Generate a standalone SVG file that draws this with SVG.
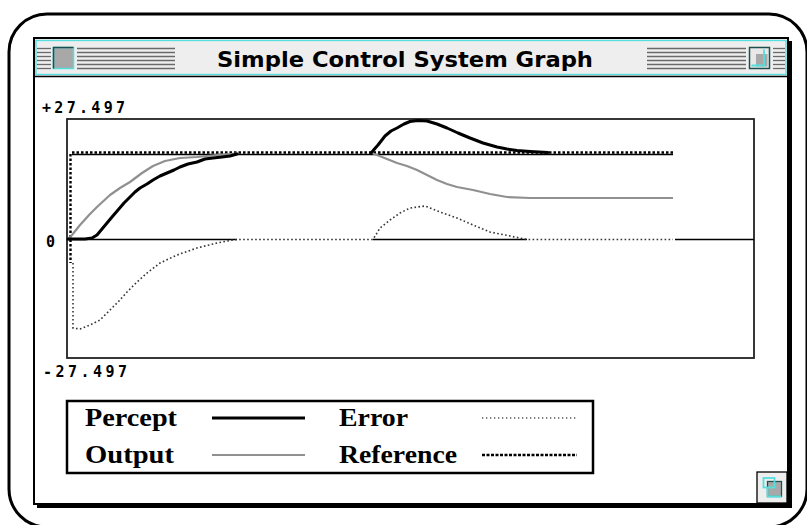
<svg xmlns="http://www.w3.org/2000/svg" width="807" height="525" viewBox="0 0 807 525">
  <style>
    .title { font-family: "DejaVu Sans", "Liberation Sans", sans-serif; font-weight: bold; font-size: 22px; fill: #000; }
    .axis { font-family: "DejaVu Sans Mono", "Liberation Mono", monospace; font-weight: bold; font-size: 15px; fill: #000; }
    .leg { font-family: "Liberation Serif", "DejaVu Serif", serif; font-weight: bold; font-size: 26px; fill: #000; }
    .stripe { stroke: #6a6a6a; stroke-width: 1.3; }
    .percept { fill: none; stroke: #000; stroke-width: 3; stroke-linejoin: round; stroke-linecap: round; }
    .output { fill: none; stroke: #909090; stroke-width: 2.2; stroke-linejoin: round; }
    .error { fill: none; stroke: #333; stroke-width: 1.6; stroke-dasharray: 1.6 2.4; }
    .refbase { fill: none; stroke: #000; stroke-width: 1.3; }
    .refdash { fill: none; stroke: #000; stroke-width: 2.4; stroke-dasharray: 2.5 2; }
    .zero { stroke: #000; stroke-width: 1.4; }
  </style>

  <!-- screen outline -->
  <rect id="screen" x="9" y="14" width="798" height="513" rx="38" ry="38" fill="#fff" stroke="#000" stroke-width="3"/>

  <!-- window frame with drop shadow -->
  <g id="window">
    <rect x="37" y="41" width="755" height="467" fill="#000"/>
    <rect x="34" y="38" width="754" height="466" fill="#fff" stroke="#000" stroke-width="2"/>
  </g>

  <!-- title bar -->
  <g id="titlebar">
    <rect x="35" y="39" width="752" height="37" fill="#eeeeee"/>
    <rect x="36" y="40.5" width="750" height="34" fill="none" stroke="#55dede" stroke-width="1.3"/>
    <line x1="35" y1="76.5" x2="787" y2="76.5" stroke="#000" stroke-width="1.6"/>
    <g id="stripes-left">
      <line class="stripe" x1="37" y1="48.5" x2="51" y2="48.5"/>
      <line class="stripe" x1="37" y1="52.5" x2="51" y2="52.5"/>
      <line class="stripe" x1="37" y1="56.5" x2="51" y2="56.5"/>
      <line class="stripe" x1="37" y1="60.5" x2="51" y2="60.5"/>
      <line class="stripe" x1="37" y1="64.5" x2="51" y2="64.5"/>
      <line class="stripe" x1="37" y1="68.5" x2="51" y2="68.5"/>
      <line class="stripe" x1="77" y1="48.5" x2="175" y2="48.5"/>
      <line class="stripe" x1="77" y1="52.5" x2="175" y2="52.5"/>
      <line class="stripe" x1="77" y1="56.5" x2="175" y2="56.5"/>
      <line class="stripe" x1="77" y1="60.5" x2="175" y2="60.5"/>
      <line class="stripe" x1="77" y1="64.5" x2="175" y2="64.5"/>
      <line class="stripe" x1="77" y1="68.5" x2="175" y2="68.5"/>
    </g>
    <g id="close-box">
      <rect x="53.5" y="47.5" width="20" height="21" fill="#a8a8a8" stroke="#55dede" stroke-width="1.5"/>
      <path d="M53.5 68.5 V47.5 H73.5" fill="none" stroke="#1d4f4f" stroke-width="1.5"/>
    </g>
    <g id="stripes-right">
      <line class="stripe" x1="647" y1="48.5" x2="746" y2="48.5"/>
      <line class="stripe" x1="647" y1="52.5" x2="746" y2="52.5"/>
      <line class="stripe" x1="647" y1="56.5" x2="746" y2="56.5"/>
      <line class="stripe" x1="647" y1="60.5" x2="746" y2="60.5"/>
      <line class="stripe" x1="647" y1="64.5" x2="746" y2="64.5"/>
      <line class="stripe" x1="647" y1="68.5" x2="746" y2="68.5"/>
      <line class="stripe" x1="773" y1="48.5" x2="785" y2="48.5"/>
      <line class="stripe" x1="773" y1="52.5" x2="785" y2="52.5"/>
      <line class="stripe" x1="773" y1="56.5" x2="785" y2="56.5"/>
      <line class="stripe" x1="773" y1="60.5" x2="785" y2="60.5"/>
      <line class="stripe" x1="773" y1="64.5" x2="785" y2="64.5"/>
      <line class="stripe" x1="773" y1="68.5" x2="785" y2="68.5"/>
    </g>
    <g id="zoom-box">
      <rect x="749.5" y="47.5" width="20" height="21" fill="#e8e8e8" stroke="#1d4f4f" stroke-width="1.5"/>
      <rect x="756" y="54" width="11.5" height="12.5" fill="#a8a8a8"/>
      <path d="M751.5 65.5 H764 V49.5" fill="none" stroke="#55dede" stroke-width="1.8"/>
    </g>
    <text class="title" x="217" y="67" textLength="376" lengthAdjust="spacingAndGlyphs">Simple Control System Graph</text>
  </g>

  <!-- plot area -->
  <g id="plot">
    <rect x="67" y="119" width="687" height="239" fill="none" stroke="#222" stroke-width="1.8"/>
    <text class="axis" x="42" y="113" textLength="83">+27.497</text>
    <text class="axis" x="46" y="247">0</text>
    <text class="axis" x="43" y="377" textLength="84">-27.497</text>

    <g id="zero-axis">
      <line class="zero" x1="67" y1="239.5" x2="237" y2="239.5"/>
      <line class="zero" x1="373" y1="239.5" x2="527" y2="239.5"/>
      <line class="zero" x1="675" y1="239.5" x2="754" y2="239.5"/>
    </g>

    <g id="reference-trace">
      <line class="refbase" x1="72" y1="154.5" x2="673" y2="154.5"/>
      <line class="refdash" x1="72" y1="152.5" x2="673" y2="152.5"/>
      <line class="refdash" x1="70.5" y1="154" x2="70.5" y2="263" stroke-width="2"/>
    </g>

    <g id="output-trace">
      <polyline class="output" points="68,239 72,235 80,225 90,214 97,207 110,195 120,188 130,182 142,173 153,166 165,161 180,158 197,157 217,155 237,153.5"/>
      <polyline class="output" points="373,153.5 377,155 387,159 397,163 407,166 417,170 427,175 437,180 447,184 457,187 473,190 490,194 507,197 530,198 673,198"/>
    </g>

    <g id="error-trace">
      <polyline class="error" points="73,263 73,328 80,329 90,325 100,320 110,310 118,302 127,292 137,282 147,273 160,263 177,255 197,248 217,243 233,240 237,239.5 373,239.5 380,228 390,220 400,213 410,208 425,206 440,212 457,218 473,225 490,232 510,236 527,239.5 673,239.5"/>
    </g>

    <g id="percept-trace">
      <polyline class="percept" points="68,239 85,239 92,238 97,235 102,229 107,223 112,217 118,210 124,203 130,197 135,192 140,188 147,184 153,180 160,176 167,173 174,170 180,167 188,164 197,162 205,159 213,158 222,157 230,156 237,154"/>
      <polyline class="percept" points="371,153 378,145 385,136 391,131 397,128 404,124 410,121.5 418,120.5 427,121 437,124 447,128 458,133 470,138 483,143 497,147 507,149 517,150.5 530,151.5 548,152.5"/>
    </g>
  </g>

  <!-- legend -->
  <g id="legend">
    <rect x="67" y="401" width="526" height="72" fill="#fff" stroke="#000" stroke-width="2.5"/>
    <g id="legend-percept">
      <text class="leg" x="85" y="426" textLength="92" lengthAdjust="spacingAndGlyphs">Percept</text>
      <line x1="212" y1="418" x2="305" y2="418" stroke="#000" stroke-width="3"/>
    </g>
    <g id="legend-output">
      <text class="leg" x="85" y="463" textLength="89" lengthAdjust="spacingAndGlyphs">Output</text>
      <line x1="212" y1="455" x2="305" y2="455" stroke="#909090" stroke-width="2"/>
    </g>
    <g id="legend-error">
      <text class="leg" x="339" y="426" textLength="69" lengthAdjust="spacingAndGlyphs">Error</text>
      <line x1="482" y1="418" x2="577" y2="418" stroke="#555" stroke-width="1.3" stroke-dasharray="1.3 2.7"/>
    </g>
    <g id="legend-reference">
      <text class="leg" x="339" y="463" textLength="118" lengthAdjust="spacingAndGlyphs">Reference</text>
      <line x1="482" y1="455" x2="577" y2="455" stroke="#000" stroke-width="2.6" stroke-dasharray="3 1.5"/>
    </g>
  </g>

  <!-- grow box -->
  <g id="grow-box">
    <rect x="757" y="472" width="30" height="31" fill="#eeeeee" stroke="#000" stroke-width="1.3"/>
    <rect x="767.5" y="481.5" width="14" height="15" fill="#a8a8a8" stroke="#1d4f4f" stroke-width="1.3"/>
    <rect x="763.5" y="478" width="11" height="9.5" fill="none" stroke="#55dede" stroke-width="1.8"/>
    <path d="M767.5 487.5 V496.5 H781.5" fill="none" stroke="#55dede" stroke-width="1.8"/>
  </g>
</svg>
